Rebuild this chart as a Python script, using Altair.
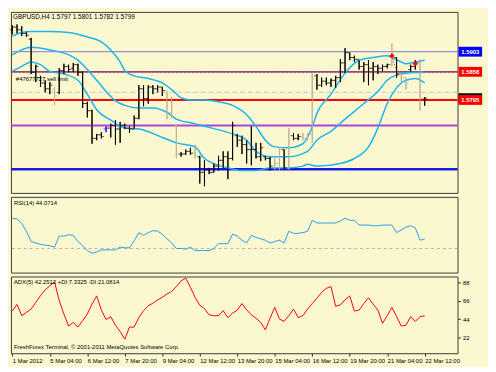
import json
import altair as alt
import pandas as pd

BG = "#fbf7cf"
FONT = "Liberation Sans"
CYAN = "#1db4f0"

# ---------------- data ----------------
bar_index = list(range(89))
bar_open = [1.5952, 1.5958, 1.5952, 1.5944, 1.5931, 1.5857, 1.5845, 1.5833, 1.5820, 1.5820,
            1.5812, 1.5861, 1.5870, 1.5866, 1.5874, 1.5857, 1.5787, 1.5771, 1.5709, 1.5717,
            1.5730, 1.5732, 1.5738, 1.5730, 1.5738, 1.5732, 1.5730, 1.5754, 1.5820, 1.5798,
            1.5824, 1.5820, 1.5824, 1.5816, 1.5767, 1.5738, 1.5674, 1.5674, 1.5680, 1.5676,
            1.5668, 1.5633, 1.5639, 1.5633, 1.5647, 1.5660, 1.5668, 1.5664, 1.5715, 1.5705,
            1.5695, 1.5684, 1.5684, 1.5668, 1.5668, 1.5664, 1.5647, 1.5653, 1.5684, 1.5643,
            1.5715, 1.5709, 1.5713, 1.5709, 1.5719, 1.5849, 1.5828, 1.5837, 1.5833, 1.5839,
            1.5845, 1.5878, 1.5901, 1.5890, 1.5886, 1.5870, 1.5874, 1.5866, 1.5870, 1.5866,
            1.5870, 1.5874, 1.5890, 1.5853, 1.5845, 1.5863, 1.5870, 1.5878, 1.5797]
bar_high = [1.5962, 1.5964, 1.5960, 1.5948, 1.5934, 1.5874, 1.5849, 1.5839, 1.5835, 1.5824,
            1.5866, 1.5876, 1.5874, 1.5878, 1.5876, 1.5859, 1.5791, 1.5773, 1.5719, 1.5723,
            1.5736, 1.5742, 1.5750, 1.5746, 1.5742, 1.5736, 1.5760, 1.5828, 1.5828, 1.5828,
            1.5828, 1.5828, 1.5824, 1.5814, 1.5802, 1.5740, 1.5678, 1.5684, 1.5688, 1.5695,
            1.5670, 1.5660, 1.5643, 1.5653, 1.5670, 1.5680, 1.5680, 1.5746, 1.5719, 1.5715,
            1.5705, 1.5736, 1.5699, 1.5699, 1.5670, 1.5668, 1.5664, 1.5690, 1.5684, 1.5732,
            1.5721, 1.5719, 1.5721, 1.5721, 1.5855, 1.5853, 1.5845, 1.5845, 1.5843, 1.5849,
            1.5886, 1.5911, 1.5901, 1.5894, 1.5884, 1.5880, 1.5884, 1.5880, 1.5874, 1.5874,
            1.5876, 1.5921, 1.5890, 1.5855, 1.5845, 1.5874, 1.5884, 1.5886, 1.5801]
bar_low = [1.5942, 1.5944, 1.5938, 1.5936, 1.5853, 1.5835, 1.5824, 1.5812, 1.5808, 1.5783,
           1.5808, 1.5853, 1.5857, 1.5857, 1.5849, 1.5777, 1.5756, 1.5697, 1.5705, 1.5709,
           1.5723, 1.5711, 1.5695, 1.5699, 1.5730, 1.5721, 1.5730, 1.5752, 1.5781, 1.5787,
           1.5808, 1.5812, 1.5804, 1.5752, 1.5754, 1.5664, 1.5668, 1.5672, 1.5672, 1.5664,
           1.5608, 1.5602, 1.5629, 1.5633, 1.5637, 1.5643, 1.5618, 1.5660, 1.5690, 1.5674,
           1.5653, 1.5649, 1.5664, 1.5658, 1.5660, 1.5637, 1.5639, 1.5637, 1.5639, 1.5639,
           1.5705, 1.5705, 1.5705, 1.5705, 1.5699, 1.5818, 1.5824, 1.5828, 1.5824, 1.5822,
           1.5835, 1.5855, 1.5884, 1.5880, 1.5863, 1.5835, 1.5828, 1.5839, 1.5853, 1.5859,
           1.5866, 1.5870, 1.5845, 1.5835, 1.5818, 1.5859, 1.5863, 1.5771, 1.5782]
bar_close = [1.5958, 1.5952, 1.5944, 1.5940, 1.5857, 1.5870, 1.5833, 1.5820, 1.5828, 1.5804,
             1.5861, 1.5870, 1.5863, 1.5874, 1.5857, 1.5787, 1.5771, 1.5709, 1.5717, 1.5713,
             1.5732, 1.5738, 1.5730, 1.5738, 1.5732, 1.5730, 1.5754, 1.5820, 1.5798, 1.5824,
             1.5820, 1.5824, 1.5816, 1.5767, 1.5758, 1.5674, 1.5674, 1.5680, 1.5676, 1.5684,
             1.5633, 1.5639, 1.5633, 1.5647, 1.5660, 1.5668, 1.5664, 1.5738, 1.5705, 1.5695,
             1.5684, 1.5684, 1.5668, 1.5688, 1.5664, 1.5647, 1.5653, 1.5684, 1.5643, 1.5715,
             1.5709, 1.5713, 1.5709, 1.5719, 1.5849, 1.5828, 1.5837, 1.5833, 1.5839, 1.5845,
             1.5878, 1.5901, 1.5890, 1.5886, 1.5870, 1.5874, 1.5866, 1.5870, 1.5866, 1.5870,
             1.5874, 1.5890, 1.5853, 1.5845, 1.5833, 1.5870, 1.5878, 1.5798, 1.5799]
grey_bars = [9, 33, 34, 35, 39, 56, 57, 59, 62, 63, 64, 81, 83, 84, 87]
blue_bars = [20]

bb_upper_i = [0, 2, 4, 8, 12, 16, 19, 21, 23, 24, 26, 29, 32, 34, 36, 38, 41, 44, 47, 50, 52,
              54, 56, 59, 62, 64, 65, 68, 71, 74, 77, 80, 81, 83, 84, 86, 88]
bb_upper_p = [1.5938, 1.5946, 1.5948, 1.5948, 1.5946, 1.5936, 1.5925, 1.5907, 1.5880, 1.5861,
              1.5849, 1.5843, 1.5833, 1.5818, 1.5800, 1.5795, 1.5795, 1.5791, 1.5783, 1.5762,
              1.5736, 1.5705, 1.5690, 1.5688, 1.5697, 1.5735, 1.5765, 1.5808, 1.5855, 1.5884,
              1.5890, 1.5894, 1.5890, 1.5880, 1.5876, 1.5880, 1.5884]
bb_mid_i = [0, 2, 4, 8, 12, 14, 16, 18, 20, 22, 24, 27, 30, 33, 35, 39, 41, 47, 50, 52, 55,
            59, 63, 65, 68, 71, 75, 78, 80, 82, 84, 88]
bb_mid_p = [1.5896, 1.5907, 1.5913, 1.5907, 1.5896, 1.5884, 1.5863, 1.5839, 1.5814, 1.5793,
            1.5783, 1.5777, 1.5777, 1.5767, 1.5752, 1.5742, 1.5736, 1.5719, 1.5705, 1.5680,
            1.5668, 1.5668, 1.5680, 1.5705, 1.5725, 1.5752, 1.5787, 1.5814, 1.5839, 1.5851,
            1.5855, 1.5857]
bb_low_i = [0, 2, 4, 6, 8, 11, 14, 16, 18, 21, 24, 27, 32, 35, 39, 41, 46, 49, 52, 55, 59, 62,
            63, 65, 70, 73, 76, 78, 80, 82, 84, 86, 88]
bb_low_p = [1.5859, 1.5870, 1.5880, 1.5874, 1.5859, 1.5853, 1.5839, 1.5808, 1.5773, 1.5750,
            1.5732, 1.5730, 1.5711, 1.5699, 1.5690, 1.5664, 1.5643, 1.5637, 1.5637, 1.5643,
            1.5643, 1.5647, 1.5651, 1.5647, 1.5653, 1.5664, 1.5690, 1.5732, 1.5787, 1.5822,
            1.5839, 1.5843, 1.5833]

rsi_values = [74, 73, 66, 55, 40, 38, 36, 35, 34, 32, 48, 48, 50, 49, 40, 34, 27, 23, 25, 28,
              28, 28, 28, 32, 31, 31, 41, 53, 49, 53, 56, 55, 51, 44, 38, 30, 30, 29, 32, 27,
              27, 27, 27, 30, 37, 37, 37, 51, 48, 42, 38, 49, 46, 44, 42, 38, 40, 42, 38, 55,
              52, 52, 53, 55, 71, 67, 67, 67, 67, 67, 70, 74, 71, 71, 64, 64, 64, 63, 63, 64,
              64, 64, 53, 57, 61, 63, 60, 42, 44]
adx_values = [53.6, 61.5, 48, 52, 56, 64, 72, 79, 84, 88.6, 66, 50, 35.6, 40, 34.4, 42, 50, 62,
              71.7, 54.7, 43.5, 46.8, 36.7, 29, 19.8, 34.4, 34.4, 46, 54, 60, 63, 67, 70, 74,
              77, 83, 89.7, 93.1, 82, 70, 60.4, 56.5, 49, 48, 48, 54, 45.7, 51, 54.7, 62.6, 55,
              49, 45, 40, 31, 45, 58.1, 44, 41.2, 48, 55.9, 45.7, 48, 56, 62.6, 69, 76, 80.7,
              83, 59.3, 61, 67, 71.7, 53.6, 54.7, 62.6, 69.4, 62, 54.7, 38.9, 48, 58.1, 47,
              35.6, 36.7, 46.8, 41.2, 46.8, 48]

level_blue_thin = 1.5903
level_dashed = 1.5858
level_order = 1.5812
level_red = 1.5795
level_purple = 1.5738
level_blue_thick = 1.5640
bid_price = 1.5799
trade_i = [81, 82.3]
trade_p = [1.5894, 1.5849]
cross_i = [81, 86]
cross_p = [1.5894, 1.5876]

price_ticks = [1.5985, 1.5946, 1.5815, 1.5770, 1.5725, 1.5680, 1.5636, 1.5595]
rsi_ticks = [0, 30, 70, 100]
rsi_level = 30
adx_ticks = [0, 22, 44, 66, 88]
time_labels = ["1 Mar 2012", "5 Mar 04:00", "6 Mar 12:00", "7 Mar 20:00", "9 Mar 04:00",
               "12 Mar 12:00", "13 Mar 20:00", "15 Mar 04:00", "16 Mar 12:00",
               "19 Mar 20:00", "21 Mar 04:00", "22 Mar 12:00"]
time_label_pos = [0, 8, 16, 24, 32, 40, 48, 56, 64, 72, 80, 88]

header_text = "GBPUSD,H4  1.5797 1.5801 1.5782 1.5799"
order_text = "#47677727 sell limit"
rsi_title = "RSI(14) 44.0714"
adx_title = "ADX(5) 42.2512 +DI:7.3325 -DI:21.0814"
copyright_text = "FreshForex Terminal, \u00a9 2001-2011 MetaQuotes Software Corp."

# ---------------- layout ----------------
W = 454
H_MAIN, H_RSI, H_ADX = 184, 77, 78
FS = 6

kind = ["blue" if i in blue_bars else ("grey" if i in grey_bars else "black") for i in bar_index]
bars = pd.DataFrame({"i": bar_index, "o": bar_open, "h": bar_high, "l": bar_low,
                     "c": bar_close, "kind": kind})

xscale = alt.Scale(domain=[-0.3, 95], nice=False, zero=False)
X = alt.X("i:Q", scale=xscale, axis=None)
pscale = alt.Scale(domain=[1.5587, 1.5992], nice=False, zero=False)
cscale = alt.Scale(domain=["black", "grey", "blue"], range=["#000000", "#bcb597", "#1010ff"])

price_axis = alt.Axis(orient="right", values=price_ticks, format=".4f", title=None,
                      labelFontSize=FS, tickSize=3, labelPadding=2, domain=False, grid=False,
                      labelFlush=False)


def level(p, **kw):
    return alt.Chart(pd.DataFrame({"p": [p]})).mark_rule(**kw).encode(
        y=alt.Y("p:Q", scale=pscale, axis=None))


lv_order = level(level_order, color="#c4c6d8", strokeWidth=1, strokeDash=[5, 3])
lv_blue_thin = level(level_blue_thin, color="#7a7ae0", strokeWidth=1)
lv_dash_a = level(level_dashed, color="#2a2a9a", strokeWidth=1.2)
lv_dash_b = level(level_dashed, color="#ff2020", strokeWidth=1.2, strokeDash=[2, 2])
lv_red = level(level_red, color="#ff0000", strokeWidth=2)
lv_purple = level(level_purple, color="#b044d8", strokeWidth=2)
lv_blue = level(level_blue_thick, color="#1a1ae6", strokeWidth=2.5)


def band(ii, pp):
    return alt.Chart(pd.DataFrame({"i": ii, "p": pp})).mark_line(
        color=CYAN, strokeWidth=1.5, interpolate="monotone").encode(
        x=X, y=alt.Y("p:Q", scale=pscale, axis=None))


hl = alt.Chart(bars).mark_rule(strokeWidth=1).encode(
    x=X, y=alt.Y("l:Q", scale=pscale, axis=price_axis), y2="h:Q",
    color=alt.Color("kind:N", scale=cscale, legend=None))
opn = alt.Chart(bars).mark_tick(orient="horizontal", size=2.5, thickness=1, xOffset=-1.3).encode(
    x=X, y=alt.Y("o:Q", scale=pscale, axis=None),
    color=alt.Color("kind:N", scale=cscale, legend=None))
cls = alt.Chart(bars).mark_tick(orient="horizontal", size=2.5, thickness=1, xOffset=1.3).encode(
    x=X, y=alt.Y("c:Q", scale=pscale, axis=None),
    color=alt.Color("kind:N", scale=cscale, legend=None))

trade = alt.Chart(pd.DataFrame({"i": trade_i, "p": trade_p})).mark_line(
    color="#ff0000", strokeWidth=1, strokeDash=[1, 2]).encode(
    x=X, y=alt.Y("p:Q", scale=pscale, axis=None))
crosses = alt.Chart(pd.DataFrame({"i": cross_i, "p": cross_p})).mark_point(
    shape="cross", filled=True, size=22, color="#ff0000", opacity=1).encode(
    x=X, y=alt.Y("p:Q", scale=pscale, axis=None))

header = alt.Chart(pd.DataFrame({"t": [header_text]})).mark_text(
    align="left", baseline="top", fontSize=FS + 0.5, color="#000").encode(
    x=alt.value(2), y=alt.value(2), text="t:N")
order_lbl = alt.Chart(pd.DataFrame({"t": [order_text], "p": [level_dashed]})).mark_text(
    align="left", baseline="top", fontSize=FS, color="#000", dy=4).encode(
    x=alt.value(5), y=alt.Y("p:Q", scale=pscale, axis=None), text="t:N")


def box(p, col, txt_col="#ffffff", show_text=True):
    df = pd.DataFrame({"p": [p]})
    r = alt.Chart(df).mark_rule(color=col, strokeWidth=10).encode(
        x=alt.value(W + 1), x2=alt.value(W + 25), y=alt.Y("p:Q", scale=pscale, axis=None))
    if not show_text:
        return r
    t = alt.Chart(df).mark_text(color=txt_col, fontSize=FS, fontWeight="bold",
                                align="center", baseline="middle").encode(
        x=alt.value(W + 13), y=alt.Y("p:Q", scale=pscale, axis=None),
        text=alt.Text("p:Q", format=".4f"))
    return r + t


main = alt.layer(
    hl, lv_order, lv_blue_thin, lv_dash_a, lv_dash_b, lv_red, lv_purple, lv_blue,
    band(bb_upper_i, bb_upper_p), band(bb_mid_i, bb_mid_p), band(bb_low_i, bb_low_p),
    hl, opn, cls, trade, crosses, header, order_lbl,
    box(bid_price, "#000000", show_text=False),
    box(level_blue_thin, "#0000ff"), box(level_dashed, "#ff0000"), box(level_red, "#ff0000"),
).properties(width=W, height=H_MAIN)

# ---------------- RSI ----------------
rscale = alt.Scale(domain=[-5, 105], nice=False, zero=False)
rsi_df = pd.DataFrame({"i": bar_index, "v": rsi_values})
rsi_axis = alt.Axis(orient="right", values=rsi_ticks, title=None, labelFontSize=FS,
                    tickSize=3, labelPadding=2, domain=False, grid=False)
rsi_lvl = alt.Chart(pd.DataFrame({"v": [rsi_level]})).mark_rule(
    color="#b4b4b4", strokeWidth=1, strokeDash=[3, 3]).encode(
    y=alt.Y("v:Q", scale=rscale, axis=rsi_axis))
rsi_line = alt.Chart(rsi_df).mark_line(color="#2d9cf0", strokeWidth=1).encode(
    x=X, y=alt.Y("v:Q", scale=rscale, axis=None))
rsi_t = alt.Chart(pd.DataFrame({"t": [rsi_title]})).mark_text(
    align="left", baseline="top", fontSize=FS, color="#000").encode(
    x=alt.value(3), y=alt.value(3), text="t:N")
rsi = alt.layer(rsi_lvl, rsi_line, rsi_t).properties(width=W, height=H_RSI)

# ---------------- ADX ----------------
ascale = alt.Scale(domain=[3, 95], nice=False, zero=False)
adx_df = pd.DataFrame({"i": bar_index, "v": adx_values})
adx_axis = alt.Axis(orient="right", values=adx_ticks, title=None, labelFontSize=FS,
                    tickSize=3, labelPadding=2, domain=False, grid=False)
time_axis = alt.Axis(values=time_label_pos,
                     labelExpr=f"{json.dumps(time_labels)}[round(datum.value / 8)]",
                     labelAlign="left", labelFontSize=FS, tickSize=3, labelPadding=1,
                     domain=False, grid=False, labelFlush=False, labelOverlap=False,
                     title=None)
adx_line = alt.Chart(adx_df).mark_line(color="#ff0000", strokeWidth=1).encode(
    x=alt.X("i:Q", scale=xscale, axis=time_axis),
    y=alt.Y("v:Q", scale=ascale, axis=adx_axis))
adx_t = alt.Chart(pd.DataFrame({"t": [adx_title]})).mark_text(
    align="left", baseline="top", fontSize=FS, color="#000").encode(
    x=alt.value(3), y=alt.value(3), text="t:N")
copy_t = alt.Chart(pd.DataFrame({"t": [copyright_text]})).mark_text(
    align="left", baseline="bottom", fontSize=FS, color="#000").encode(
    x=alt.value(3), y=alt.value(H_ADX - 3), text="t:N")
adx = alt.layer(adx_line, adx_t, copy_t).properties(width=W, height=H_ADX)

chart = alt.vconcat(main, rsi, adx, spacing=2).properties(padding=0).configure(
    background=BG, font=FONT
).configure_view(stroke="#3a3a3a", strokeWidth=1, fill=BG).configure_axis(
    labelFont=FONT, labelColor="#000000", tickColor="#333333"
).configure_text(font=FONT)

chart.save("out.html", embed_options={"renderer": "svg", "actions": False})
